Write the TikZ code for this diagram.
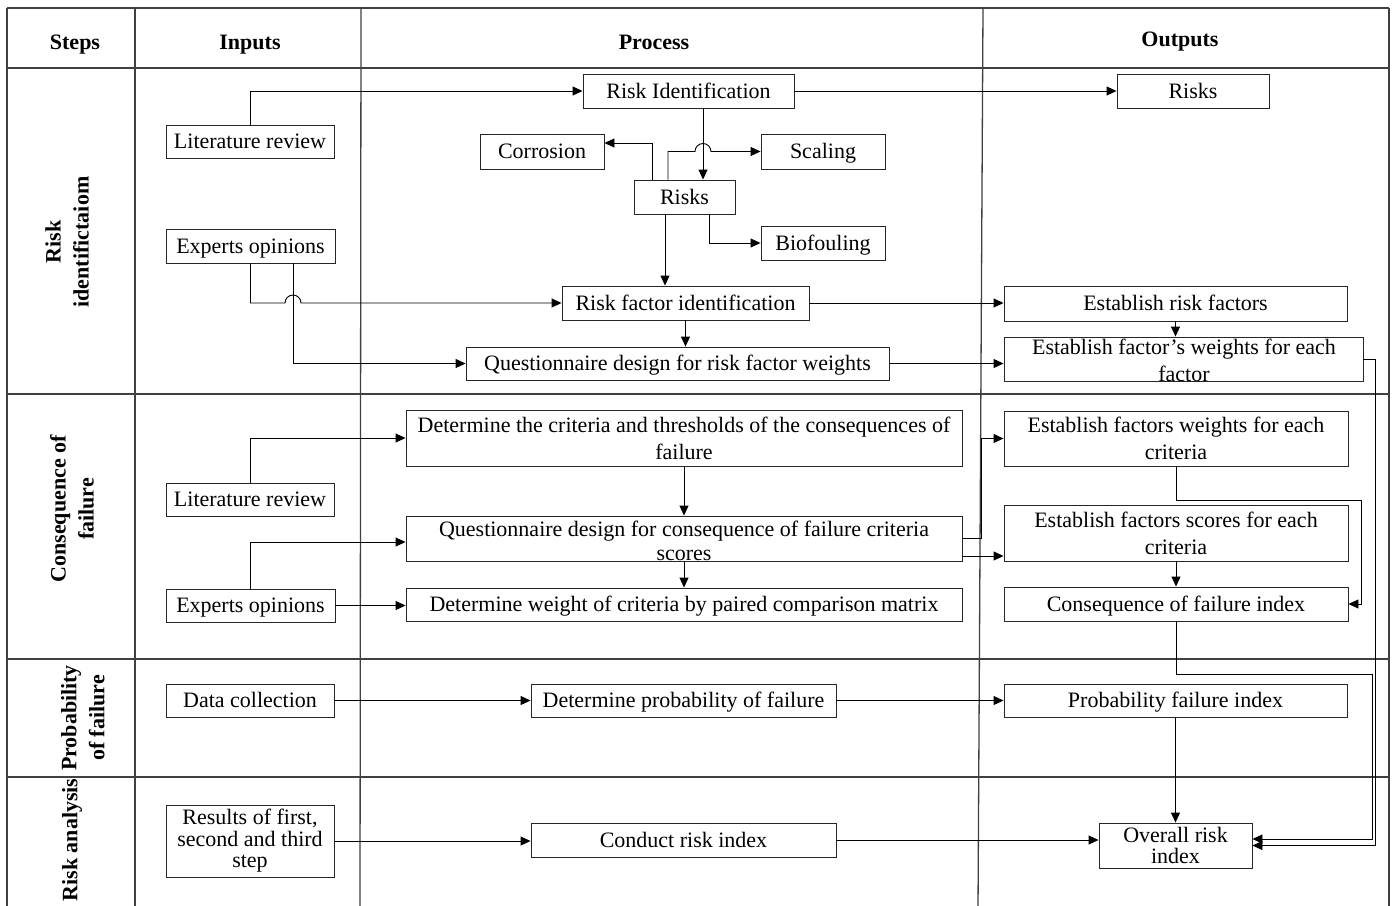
\documentclass[tikz,border=0pt]{standalone}
\usepackage{fontspec}
\setmainfont{Liberation Serif}
\usetikzlibrary{arrows.meta,calc}
\begin{document}
\begin{tikzpicture}[x=1pt,y=-1pt,
  bx/.style={draw=black!85, line width=0.9pt, fill=white, inner sep=0pt, align=center, font=\fontsize{22}{26}\selectfont},
  one/.style={text height=15pt, text depth=0.5pt},
  txt/.style={inner sep=0pt, align=center, font=\fontsize{22}{26}\selectfont},
  hd/.style={inner sep=0pt, text height=15pt, text depth=0pt, font=\fontsize{22}{26}\selectfont\bfseries},
  rl/.style={inner sep=0pt, align=center, rotate=90, font=\fontsize{22}{28}\selectfont\bfseries},
  gridline/.style={draw=black!75, line width=1.3pt},
  arr/.style={draw=black, line width=0.9pt, -{Triangle[length=10pt,width=9pt]}},
]
\useasboundingbox (0,0) rectangle (1392,905);
\fill[white] (0,0) rectangle (1392,905);

% ---- table grid ----
\draw[gridline] (7,8) -- (1389,8);
\draw[gridline] (7,68) -- (1389,68);
\draw[gridline] (7,394) -- (1389,394);
\draw[gridline] (7,659) -- (1389,659);
\draw[gridline] (7,777) -- (1389,777);
\draw[gridline] (7,8) -- (7,910);
\draw[gridline] (135,8) -- (135,910);
\draw[gridline] (361,8) -- (360,910);
\draw[gridline] (983,8) -- (978,910);
\draw[gridline] (1389,8) -- (1389,910);

% ---- headers ----
\node[hd] (hsteps) at (75,42) {Steps};
\node[hd] (hinputs) at (250,42) {Inputs};
\node[hd] (hprocess) at (654,42) {Process};
\node[hd] (houtputs) at (1180,39) {Outputs};

% ---- row labels ----
\node[rl] (l1) at (67,242) {Risk\\identifictaiom};
\node[rl] (l2) at (72,509) {Consequence of\\failure};
\node[rl] (l3) at (83,718) {Probability\\of failure};
\node[rl] (l4) at (72,840) {Risk analysis};

% ---- row 1: risk identification ----
\node[bx, one, minimum width=211pt, minimum height=34pt] (ri) at (688.5,91) {Risk Identification};
\node[bx, one, minimum width=152pt, minimum height=34pt] (riskout) at (1193,91) {Risks};
\node[bx, one, minimum width=168pt, minimum height=33pt] (lit1) at (250,141.5) {Literature review};
\node[bx, one, minimum width=124pt, minimum height=35pt] (corr) at (542,151.5) {Corrosion};
\node[bx, one, minimum width=124pt, minimum height=35pt] (scal) at (823,151.5) {Scaling};
\node[bx, one, minimum width=101pt, minimum height=34pt] (risks) at (684.5,197) {Risks};
\node[bx, one, minimum width=124pt, minimum height=34pt] (bio) at (823,243) {Biofouling};
\node[bx, one, minimum width=169pt, minimum height=34pt] (exp1) at (250.5,246) {Experts opinions};
\node[bx, one, minimum width=247pt, minimum height=34pt] (rfi) at (685.5,303) {Risk factor identification};
\node[bx, one, minimum width=423pt, minimum height=33pt] (qd1) at (677.5,363.5) {Questionnaire design for risk factor weights};
\node[bx, one, minimum width=343pt, minimum height=35pt] (erf) at (1175.5,303.5) {Establish risk factors};
\node[bx, minimum width=359pt, minimum height=44pt] (efw) at (1183.5,359) {};
\node[txt, font=\fontsize{22}{27}\selectfont] (efwt) at (1184,360) {Establish factor’s weights for each\\factor};

% ---- row 2: consequence of failure ----
\node[bx, one, minimum width=168pt, minimum height=33pt] (lit2) at (250,499.5) {Literature review};
\node[bx, one, minimum width=169pt, minimum height=33pt] (exp2) at (250.5,605.5) {Experts opinions};
\node[bx, minimum width=556pt, minimum height=56pt, font=\fontsize{22}{27}\selectfont] (dc) at (684,438) {Determine the criteria and thresholds of the consequences of\\failure};
\node[bx, minimum width=556pt, minimum height=45pt] (qd2) at (684,538.5) {};
\node[txt, font=\fontsize{22}{24}\selectfont] (qd2t) at (684,541) {Questionnaire design for consequence of failure criteria\\scores};
\node[bx, one, minimum width=556pt, minimum height=33pt] (dw) at (684,604.5) {Determine weight of criteria by paired comparison matrix};
\node[bx, minimum width=344pt, minimum height=55pt, font=\fontsize{22}{27}\selectfont] (ewc) at (1176,438.5) {Establish factors weights for each\\criteria};
\node[bx, minimum width=344pt, minimum height=56pt, font=\fontsize{22}{27}\selectfont] (esc) at (1176,533) {Establish factors scores for each\\criteria};
\node[bx, one, minimum width=344pt, minimum height=34pt] (cfi) at (1176,604) {Consequence of failure index};

% ---- row 3: probability of failure ----
\node[bx, one, minimum width=168pt, minimum height=33pt] (dcol) at (250,700.5) {Data collection};
\node[bx, one, minimum width=305pt, minimum height=33pt] (dpf) at (683.5,700.5) {Determine probability of failure};
\node[bx, one, minimum width=343pt, minimum height=33pt] (pfi) at (1175.5,700.5) {Probability failure index};

% ---- row 4: risk analysis ----
\node[bx, minimum width=168pt, minimum height=72pt, font=\fontsize{22}{21.5}\selectfont] (res) at (250,841) {Results of first,\\second and third\\step};
\node[bx, one, minimum width=305pt, minimum height=34pt] (cri) at (683.5,840) {Conduct risk index};
\node[bx, minimum width=153pt, minimum height=45pt, font=\fontsize{22}{21}\selectfont] (ori) at (1175.5,845.5) {Overall risk\\index};

% ---- connectors row 1 ----
\draw[arr] (lit1.north) |- (ri.west);
\draw[arr] (ri.east) -- (riskout.west);
\draw[arr] ([xshift=14.5pt]ri.south) -- ([xshift=14.5pt]ri.south |- risks.north);
\draw[arr] ([xshift=-32.5pt]risks.north) |- ([yshift=8.5pt]corr.east);
\draw[arr] ([xshift=-16.5pt]risks.north) |- ([xshift=6.5pt]ri.south |- scal.west)
   arc[start angle=180, end angle=360, radius=8] -- (scal.west);
\draw[arr] ([xshift=24.5pt]risks.south) |- (bio.west);
\draw[arr] ([xshift=-19.5pt]risks.south) -- ([xshift=-19.5pt]risks.south |- rfi.north);
\draw[arr] (exp1.south) |- ([xshift=34.5pt]exp1.south |- rfi.west)
   arc[start angle=180, end angle=360, radius=8] -- (rfi.west);
\draw[arr] ([xshift=42.5pt]exp1.south) |- (qd1.west);
\draw[arr] (rfi.south) -- (rfi.south |- qd1.north);
\draw[arr] (rfi.east) -- (rfi.east -| erf.west);
\draw[arr] (qd1.east) -- (qd1.east -| efw.west);
\draw[arr] (erf.south) -- (erf.south |- efw.north);
\draw[arr] (efw.east) -| ([xshift=123pt]ori.east) -- (ori.east);

% ---- connectors row 2 ----
\draw[arr] (lit2.north) |- (dc.west);
\draw[arr] (exp2.north) |- ([yshift=-3.5pt]qd2.west);
\draw[arr] (exp2.east) -- (exp2.east -| dw.west);
\draw[arr] (dc.south) -- (dc.south |- qd2.north);
\draw[arr] (qd2.south) -- (qd2.south |- dw.north);
\draw[arr] (qd2.east) -- ++(19,0) |- (ewc.west);
\draw[arr] ([yshift=-17.5pt]qd2.east) -- ([yshift=-17.5pt]qd2.east -| esc.west);
\draw[arr] (ewc.south) -- ++(0,34) -| ([xshift=13pt]cfi.east) -- (cfi.east);
\draw[arr] (esc.south) -- (esc.south |- cfi.north);
\draw[arr] (cfi.south) -- ++(0,53) -| ([xshift=120pt,yshift=6.5pt]ori.east) -- ([yshift=6.5pt]ori.east);

% ---- connectors rows 3-4 ----
\draw[arr] (dcol.east) -- (dpf.west);
\draw[arr] (dpf.east) -- (pfi.west);
\draw[arr] (pfi.south) -- (pfi.south |- ori.north);
\draw[arr] (res.east) -- (res.east -| cri.west);
\draw[arr] (cri.east) -- (cri.east -| ori.west);
\end{tikzpicture}
\end{document}
